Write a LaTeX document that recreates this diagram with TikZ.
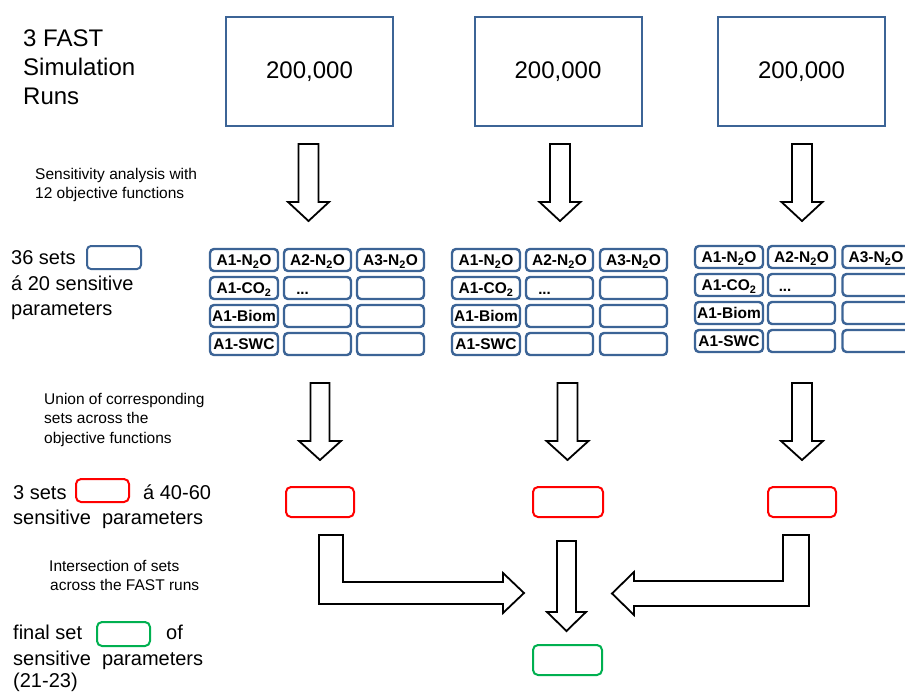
\documentclass[tikz,border=0pt]{standalone}
\usepackage{fontspec}
\setmainfont{Liberation Sans}
\definecolor{boxblue}{RGB}{60,100,150}
\definecolor{setred}{RGB}{255,0,0}
\definecolor{setgreen}{RGB}{0,176,80}
\newcommand{\blockdown}[6]{\draw[blockarrow] ({#1-#5},#2) -- ({#1+#5},#2) -- ({#1+#5},#3) -- ({#1+#6},#3) -- (#1,#4) -- ({#1-#6},#3) -- ({#1-#5},#3) -- cycle;}
\tikzset{
  bigbox/.style={draw=boxblue, line width=2pt, minimum width=167pt, minimum height=108pt, inner sep=0pt, font=\fontsize{24}{28}\selectfont},
  cellbox/.style={draw=boxblue, line width=2.4pt, rounded corners=4pt, minimum height=22pt, text height=11pt, text depth=0pt, inner sep=0pt, font=\bfseries\fontsize{15.5}{18}\selectfont},
  cola/.style={cellbox, minimum width=68pt},
  colb/.style={cellbox, minimum width=67pt},
  redset/.style={draw=setred, line width=2pt, rounded corners=5pt, inner sep=0pt},
  greenset/.style={draw=setgreen, line width=2pt, rounded corners=5pt, inner sep=0pt},
  blueset/.style={draw=boxblue, line width=2pt, rounded corners=4pt, inner sep=0pt},
  blockarrow/.style={draw=black, fill=white, line width=1.8pt},
  dots/.style={inner sep=0pt, anchor=base, font=\bfseries\fontsize{15}{18}\selectfont},
  bigtxt/.style={anchor=base west, inner sep=0pt, font=\fontsize{24}{28}\selectfont},
  midtxt/.style={anchor=base west, inner sep=0pt, font=\fontsize{20}{24}\selectfont},
  smalltxt/.style={anchor=base west, inner sep=0pt, font=\fontsize{15.5}{19}\selectfont},
}
\newcommand{\sbs}[1]{\textsubscript{#1}}
\begin{document}
\begin{tikzpicture}[x=1pt,y=-1pt]
\clip (0,0) rectangle (905,693);
\fill[white] (0,0) rectangle (905,693);

% left texts
\node[bigtxt] (t1a) at (23,47) {3 FAST};
\node[bigtxt] (t1b) at (23,76) {Simulation};
\node[bigtxt] (t1c) at (23,104) {Runs};
\node[smalltxt] (t2a) at (35,179) {Sensitivity analysis with};
\node[smalltxt] (t2b) at (35,198) {12 objective functions};
\node[midtxt] (t3a) at (11,264) {36 sets};
\node[blueset, minimum width=54pt, minimum height=23pt] (k1) at (114,257.5) {};
\node[midtxt] (t3b) at (11,290) {á 20 sensitive};
\node[midtxt] (t3c) at (11,315) {parameters};
\node[smalltxt] (t4a) at (44,404) {Union of corresponding};
\node[smalltxt] (t4b) at (44,423.5) {sets across the};
\node[smalltxt] (t4c) at (44,443) {objective functions};
\node[midtxt] (t5a) at (13,499) {3 sets};
\node[redset, minimum width=53pt, minimum height=23pt] (k2) at (102.5,490.5) {};
\node[midtxt] (t5b) at (143,499) {á 40-60};
\node[midtxt] (t5c) at (13,524) {sensitive\hspace*{11pt}parameters};
\node[smalltxt] (t6a) at (49,571) {Intersection of sets};
\node[smalltxt] (t6b) at (50,590) {across the FAST runs};
\node[midtxt] (t7a) at (13,639) {final set};
\node[greenset, minimum width=53pt, minimum height=24pt] (k3) at (123.5,634) {};
\node[midtxt] (t7b) at (166,639) {of};
\node[midtxt] (t7c) at (13,665) {sensitive\hspace*{11pt}parameters};
\node[midtxt] (t7d) at (13,687) {(21-23)};

% top boxes
\node[bigbox] (r1) at (309.5,71.5) {200,000};
\node[bigbox] (r2) at (558,71.5) {200,000};
\node[bigbox] (r3) at (801.5,71.5) {200,000};

% arrows from runs
\blockdown{308.5}{144}{202}{221}{10}{20.5}
\blockdown{560}{144}{202}{221}{10}{20.5}
\blockdown{802}{144}{202}{221}{10}{20.5}

% grid 1
\node[cola] (g1a1) at (244,260) {A1-N\sbs{2}O};
\node[colb] (g1b1) at (317.5,260) {A2-N\sbs{2}O};
\node[colb] (g1c1) at (390.5,260) {A3-N\sbs{2}O};
\node[cola] (g1a2) at (244,288) {A1-CO\sbs{2}};
\node[colb] (g1b2) at (317.5,288) {};
\node[colb] (g1c2) at (390.5,288) {};
\node[cola] (g1a3) at (244,316) {A1-Biom};
\node[colb] (g1b3) at (317.5,316) {};
\node[colb] (g1c3) at (390.5,316) {};
\node[cola] (g1a4) at (244,344) {A1-SWC};
\node[colb] (g1b4) at (317.5,344) {};
\node[colb] (g1c4) at (390.5,344) {};
\node[dots] (d1) at (302.5,294) {...};

% grid 2
\node[cola] (g2a1) at (486,260) {A1-N\sbs{2}O};
\node[colb] (g2b1) at (559.5,260) {A2-N\sbs{2}O};
\node[colb] (g2c1) at (633.5,260) {A3-N\sbs{2}O};
\node[cola] (g2a2) at (486,288) {A1-CO\sbs{2}};
\node[colb] (g2b2) at (559.5,288) {};
\node[colb] (g2c2) at (633.5,288) {};
\node[cola] (g2a3) at (486,316) {A1-Biom};
\node[colb] (g2b3) at (559.5,316) {};
\node[colb] (g2c3) at (633.5,316) {};
\node[cola] (g2a4) at (486,344) {A1-SWC};
\node[colb] (g2b4) at (559.5,344) {};
\node[colb] (g2c4) at (633.5,344) {};
\node[dots] (d2) at (544.5,294) {...};

% grid 3
\node[cola] (g3a1) at (729,257) {A1-N\sbs{2}O};
\node[colb] (g3b1) at (801.5,257) {A2-N\sbs{2}O};
\node[colb] (g3c1) at (876,257) {A3-N\sbs{2}O};
\node[cola] (g3a2) at (729,285) {A1-CO\sbs{2}};
\node[colb] (g3b2) at (801.5,285) {};
\node[colb] (g3c2) at (876,285) {};
\node[cola] (g3a3) at (729,313) {A1-Biom};
\node[colb] (g3b3) at (801.5,313) {};
\node[colb] (g3c3) at (876,313) {};
\node[cola] (g3a4) at (729,341) {A1-SWC};
\node[colb] (g3b4) at (801.5,341) {};
\node[colb] (g3c4) at (876,341) {};
\node[dots] (d3) at (785,291) {...};

% union arrows
\blockdown{320}{383}{441}{460}{9.5}{21}
\blockdown{567.5}{383}{441}{460}{10}{21}
\blockdown{802}{383}{441}{460}{10}{21}

% red sets
\node[redset, minimum width=68pt, minimum height=30pt] (s1) at (320,502) {};
\node[redset, minimum width=70pt, minimum height=30pt] (s2) at (568,502) {};
\node[redset, minimum width=68pt, minimum height=30pt] (s3) at (802,502) {};

% intersection arrows
\draw[blockarrow] (319,535) -- (343,535) -- (343,582) -- (503,582) -- (503,573) -- (524,593) -- (503,613) -- (503,604) -- (319,604) -- cycle;
\draw[blockarrow] (809,535) -- (783,535) -- (783,581) -- (634,581) -- (634,572) -- (612,593.5) -- (634,615) -- (634,606) -- (809,606) -- cycle;
\blockdown{566.5}{541}{612}{631}{9.5}{19.5}

% final set
\node[greenset, minimum width=69pt, minimum height=30pt] (f) at (567.5,660) {};
\end{tikzpicture}
\end{document}
